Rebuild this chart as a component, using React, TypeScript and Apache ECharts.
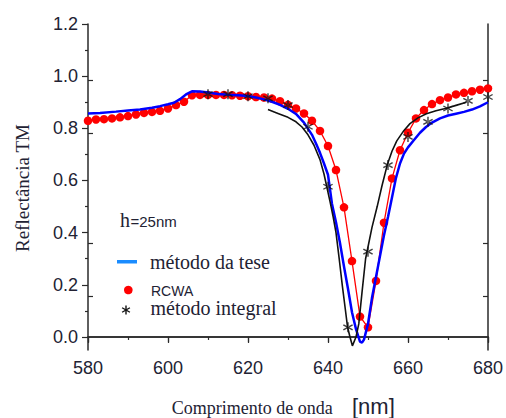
import React, { useEffect, useRef } from "react";
import * as echarts from "echarts";

// método da tese (blue line): [wavelength nm, reflectance]
const teseX = [580, 583, 587, 590, 593, 596, 598, 600, 601.5, 603, 604.5, 606, 608, 610, 612.5, 615, 617.5, 620, 622, 624, 626, 628, 630, 632, 634, 636, 637, 638, 639, 640, 641, 642, 643, 644, 645, 646, 647, 648, 648.5, 649, 650, 651, 652, 653, 654, 655, 656, 657, 658, 659, 660, 661.5, 663, 664.5, 666, 668, 670, 672, 674, 676, 678, 680];
const teseY = [0.857, 0.859, 0.864, 0.868, 0.872, 0.879, 0.885, 0.892, 0.898, 0.912, 0.93, 0.942, 0.941, 0.937, 0.932, 0.929, 0.927, 0.924, 0.918, 0.911, 0.902, 0.89, 0.875, 0.855, 0.822, 0.775, 0.742, 0.706, 0.665, 0.622, 0.51, 0.44, 0.36, 0.27, 0.185, 0.095, 0.03, -0.018, -0.022, -0.01, 0.05, 0.15, 0.23, 0.31, 0.39, 0.46, 0.535, 0.61, 0.665, 0.703, 0.727, 0.755, 0.783, 0.805, 0.822, 0.838, 0.849, 0.856, 0.863, 0.872, 0.884, 0.9];

// RCWA (red dots)
const rcwaX = [580, 582, 584, 586, 588, 590, 592, 594, 596, 598, 600, 602, 604, 606, 608, 610, 612, 614, 616, 618, 620, 622, 624, 626, 628, 630, 632, 634, 636, 638, 640, 642, 644, 646, 648, 650, 652, 654, 656, 658, 660, 662, 664, 666, 668, 670, 672, 674, 676, 678, 680];
const rcwaY = [0.829, 0.834, 0.835, 0.838, 0.842, 0.847, 0.853, 0.859, 0.863, 0.867, 0.876, 0.889, 0.902, 0.927, 0.928, 0.928, 0.928, 0.928, 0.927, 0.925, 0.923, 0.92, 0.918, 0.914, 0.904, 0.89, 0.876, 0.857, 0.829, 0.79, 0.732, 0.64, 0.497, 0.291, 0.078, 0.037, 0.215, 0.438, 0.608, 0.716, 0.783, 0.838, 0.87, 0.893, 0.908, 0.918, 0.93, 0.936, 0.942, 0.948, 0.953];

// método integral (black line)
const integralLineX = [625, 627.5, 630, 632, 633.5, 635, 636.5, 638, 639, 639.7, 640.5, 641.3, 642, 642.8, 643.6, 644.3, 644.9, 645.5, 646.1, 647, 647.7, 648.5, 649.4, 650, 651, 652.3, 653.5, 654.8, 656, 657.2, 659, 660.5, 662.5, 664.6, 667, 669.6, 672, 674.6];
const integralLineY = [0.872, 0.857, 0.842, 0.825, 0.805, 0.775, 0.735, 0.68, 0.625, 0.576, 0.52, 0.46, 0.4, 0.3, 0.195, 0.11, 0.037, 0.0, -0.034, 0.0, 0.05, 0.17, 0.3, 0.345, 0.42, 0.5, 0.58, 0.659, 0.712, 0.752, 0.792, 0.818, 0.84, 0.856, 0.867, 0.877, 0.888, 0.9];

// método integral (star markers)
const integralStarX = [610, 615, 620, 625, 630, 635, 640, 645, 650, 655, 660, 665, 670, 675, 680];
const integralStarY = [0.931, 0.931, 0.923, 0.915, 0.889, 0.806, 0.576, 0.037, 0.327, 0.659, 0.767, 0.825, 0.876, 0.905, 0.92];

const xTicks = [580, 600, 620, 640, 660, 680];
const yMajorTicks = [0, 0.2, 0.4, 0.6, 0.8, 1.0, 1.2];
const yMinorTicks = [0.1, 0.3, 0.5, 0.7, 0.9, 1.1];
const yInnerTicks = [0.157, 0.36, 0.782, 0.985];

const legendLabels = ["método da tese", "RCWA", "método integral"];

const STAR =
  "path://M8.8,1L11.2,1L11.2,19L8.8,19Z M17.194,15.539L18.394,13.461L2.806,4.461L1.606,6.539Z M18.394,6.539L17.194,4.461L1.606,13.461L2.806,15.539Z";

const zip = (xs: number[], ys: number[]) => xs.map((x, i) => [x, ys[i]]);

export default function App() {
  const ref = useRef<HTMLDivElement>(null);
  useEffect(() => {
    if (!ref.current) return;
    const chart = echarts.init(ref.current, null, { renderer: "svg" });
    const axisColor = "#2a2a2a";
    const labelColor = "#222233";
    const yCommon = { type: "value", min: -0.05, max: 1.2, splitLine: { show: false } };
    chart.setOption({
      animation: false,
      backgroundColor: "#ffffff",
      grid: { left: 88, right: 14, top: 24, bottom: 68, containLabel: false },
      xAxis: [
        {
          type: "value",
          position: "bottom",
          min: 580,
          max: 680,
          interval: 20,
          axisLine: { show: true, lineStyle: { color: axisColor, width: 1.5 } },
          axisTick: { show: true, inside: false, length: 6, lineStyle: { color: axisColor, width: 1.2 } },
          minorTick: { show: true, splitNumber: 2, length: 3, lineStyle: { color: axisColor, width: 1.2 } },
          axisLabel: {
            show: true,
            customValues: xTicks,
            fontFamily: "Liberation Sans, Arial, sans-serif",
            fontSize: 18,
            color: labelColor,
            margin: 9,
          },
          splitLine: { show: false },
        },
        {
          type: "value",
          position: "top",
          min: 580,
          max: 680,
          interval: 20,
          axisLine: { show: true, lineStyle: { color: axisColor, width: 1.5 } },
          axisTick: { show: true, inside: true, length: 5, lineStyle: { color: axisColor, width: 1.2 } },
          axisLabel: { show: false },
          splitLine: { show: false },
        },
      ],
      yAxis: [
        {
          ...yCommon,
          position: "left",
          axisLine: { show: true, onZero: false, lineStyle: { color: axisColor, width: 1.5 } },
          axisTick: { show: true, inside: false, length: 6, customValues: yMajorTicks, lineStyle: { color: axisColor, width: 1.2 } },
          axisLabel: {
            show: true,
            customValues: yMajorTicks,
            formatter: (v: number) => v.toFixed(1),
            fontFamily: "Liberation Sans, Arial, sans-serif",
            fontSize: 18,
            color: labelColor,
            margin: 10,
          },
        },
        {
          ...yCommon,
          position: "left",
          offset: 0,
          axisLine: { show: false },
          axisTick: { show: true, inside: false, length: 3, customValues: yMinorTicks, lineStyle: { color: axisColor, width: 1.2 } },
          axisLabel: { show: false },
        },
        {
          ...yCommon,
          position: "left",
          offset: 0,
          axisLine: { show: false },
          axisTick: { show: true, inside: true, length: 5, customValues: yInnerTicks, lineStyle: { color: axisColor, width: 1.2 } },
          axisLabel: { show: false },
        },
        {
          ...yCommon,
          position: "right",
          offset: 0,
          axisLine: { show: true, onZero: false, lineStyle: { color: axisColor, width: 1.5 } },
          axisTick: { show: true, inside: true, length: 5, customValues: yInnerTicks, lineStyle: { color: axisColor, width: 1.2 } },
          axisLabel: { show: false },
        },
      ],
      series: [
        {
          name: legendLabels[1],
          type: "line",
          xAxisIndex: 0,
          yAxisIndex: 0,
          data: zip(rcwaX, rcwaY),
          symbol: "circle",
          symbolSize: 8.5,
          showSymbol: true,
          itemStyle: { color: "#ff0000" },
          lineStyle: { color: "#ff0000", width: 1.3 },
          z: 2,
        },
        {
          name: legendLabels[0],
          type: "line",
          xAxisIndex: 0,
          yAxisIndex: 0,
          data: zip(teseX, teseY),
          showSymbol: false,
          symbol: "none",
          lineStyle: { color: "#0000ff", width: 2.5 },
          z: 3,
        },
        {
          name: "integral-line",
          type: "line",
          xAxisIndex: 0,
          yAxisIndex: 0,
          data: zip(integralLineX, integralLineY),
          showSymbol: false,
          symbol: "none",
          smooth: false,
          lineStyle: { color: "#111111", width: 1.6 },
          z: 4,
        },
        {
          name: legendLabels[2],
          type: "scatter",
          xAxisIndex: 0,
          yAxisIndex: 0,
          data: zip(integralStarX, integralStarY),
          symbol: STAR,
          symbolSize: 10,
          itemStyle: { color: "#111111" },
          z: 5,
        },
      ],
      graphic: [
        {
          type: "text",
          x: 22,
          y: 188,
          rotation: Math.PI / 2,
          style: {
            text: "Reflectância TM",
            font: '19px "Liberation Serif", "Times New Roman", serif',
            fill: "#222233",
            align: "center",
            verticalAlign: "middle",
          },
        },
        {
          type: "text",
          x: 171.7,
          y: 408,
          style: {
            text: "Comprimento de onda",
            font: '18px "Liberation Serif", "Times New Roman", serif',
            fill: "#222233",
            align: "left",
            verticalAlign: "middle",
          },
        },
        {
          type: "text",
          x: 352,
          y: 406,
          style: {
            text: "[nm]",
            font: '22px "Liberation Sans", Arial, sans-serif',
            fill: "#222233",
            align: "left",
            verticalAlign: "middle",
          },
        },
        {
          type: "text",
          x: 120,
          y: 220,
          style: {
            text: "h",
            font: '20px "Liberation Serif", "Times New Roman", serif',
            fill: "#222233",
            align: "left",
            verticalAlign: "middle",
          },
        },
        {
          type: "text",
          x: 130.5,
          y: 221.5,
          style: {
            text: "=25nm",
            font: '15px "Liberation Sans", Arial, sans-serif',
            fill: "#222233",
            align: "left",
            verticalAlign: "middle",
          },
        },
        {
          type: "rect",
          shape: { x: 117, y: 260, width: 20, height: 3.5 },
          style: { fill: "#1a8cff" },
        },
        {
          type: "text",
          x: 150,
          y: 261.6,
          style: {
            text: legendLabels[0],
            font: '20px "Liberation Serif", "Times New Roman", serif',
            fill: "#222233",
            align: "left",
            verticalAlign: "middle",
          },
        },
        {
          type: "circle",
          shape: { cx: 128.3, cy: 290, r: 4.3 },
          style: { fill: "#ff0000" },
        },
        {
          type: "text",
          x: 151,
          y: 290.5,
          style: {
            text: legendLabels[1],
            font: '14px "Liberation Sans", Arial, sans-serif',
            fill: "#222233",
            align: "left",
            verticalAlign: "middle",
          },
        },
        {
          type: "line",
          shape: { x1: 126, y1: 305.5, x2: 126, y2: 314.5 },
          style: { stroke: "#111111", lineWidth: 1.4 },
        },
        {
          type: "line",
          shape: { x1: 122.1, y1: 307.75, x2: 129.9, y2: 312.25 },
          style: { stroke: "#111111", lineWidth: 1.4 },
        },
        {
          type: "line",
          shape: { x1: 122.1, y1: 312.25, x2: 129.9, y2: 307.75 },
          style: { stroke: "#111111", lineWidth: 1.4 },
        },
        {
          type: "text",
          x: 150.5,
          y: 308,
          style: {
            text: legendLabels[2],
            font: '20px "Liberation Serif", "Times New Roman", serif',
            fill: "#222233",
            align: "left",
            verticalAlign: "middle",
          },
        },
      ],
    });
    return () => chart.dispose();
  }, []);
  return (
    <div
      ref={ref}
      style={{ position: "fixed", left: 0, top: 0, width: 506, height: 418, background: "#fff" }}
    />
  );
}
